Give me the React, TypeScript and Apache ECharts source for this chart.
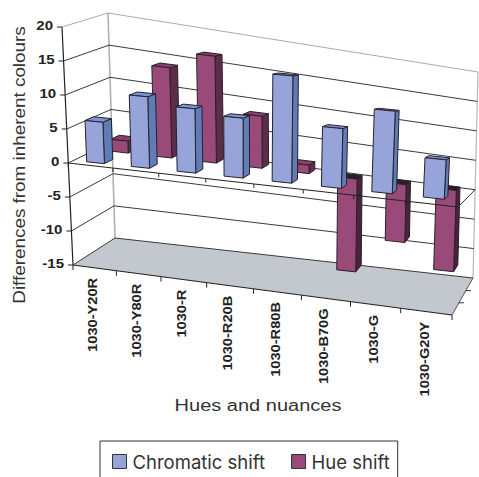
import React, { useEffect, useRef } from "react";
import * as echarts from "echarts";

const categories = ["1030-Y20R", "1030-Y80R", "1030-R", "1030-R20B", "1030-R80B", "1030-B70G", "1030-G", "1030-G20Y"];
const chromaticShift = [6.1, 10.5, 9.4, 8.7, 15.5, 8.6, 11.8, 5.6];
const hueShift = [1.8, 13.8, 16.4, 8, 1.3, -14.4, -9, -12.7];
const yTicks = [20, 15, 10, 5, 0, -5, -10, -15];
const W = 479;
const H = 477;
const FONT = "Liberation Sans";

type Pt = [number, number];
const FL0: Pt = [73, 265], FL1: Pt = [62, 27], FR0: Pt = [452, 315], FR1: Pt = [466, 63];
const BL0: Pt = [115, 238], BL1: Pt = [108, 13], BR0: Pt = [473, 278], BR1: Pt = [478, 72];
const mix = (a: Pt, b: Pt, t: number): Pt => [a[0] + (b[0] - a[0]) * t, a[1] + (b[1] - a[1]) * t];
const warp = (u: number) => 0.905 * u + 0.095 * u * u;
// u, v in 0..1 of the plot box from the cartesian scales, d = depth 0..1
function project(u: number, v: number, d: number): Pt {
  const w = warp(u);
  const front = mix(mix(FL0, FR0, w), mix(FL1, FR1, w), v);
  const back = mix(mix(BL0, BR0, w), mix(BL1, BR1, w), v);
  return mix(front, back, d);
}
function measure(s: string, font: string): number {
  const ctx = document.createElement("canvas").getContext("2d")!;
  ctx.font = font;
  return ctx.measureText(s).width;
}

function App() {
  const ref = useRef<HTMLDivElement>(null);
  useEffect(() => {
    document.body.style.margin = "0";
    const chart = echarts.init(ref.current!, null, { renderer: "svg" });
    // category position plus a fraction of the band -> normalised plot coordinates
    const norm = (api: any, i: number, frac: number, y: number): [number, number] => {
      const p = api.coord([i, y]);
      const band = api.size([1, 0])[0];
      return [(p[0] + frac * band) / W, (H - p[1]) / H];
    };
    const line = (a: Pt, b: Pt, stroke: string, lineWidth = 1) => ({
      type: "line",
      shape: { x1: a[0], y1: a[1], x2: b[0], y2: b[1] },
      style: { stroke, lineWidth },
      silent: true,
    });
    const text = (s: string, x: number, y: number, o: any = {}) => ({
      type: "text",
      x,
      y,
      rotation: o.rotation || 0,
      scaleX: o.scaleX || 1,
      silent: true,
      style: {
        text: s,
        x: 0,
        y: 0,
        align: o.align || "center",
        verticalAlign: "middle",
        fontFamily: FONT,
        fontSize: o.size || 12,
        fontWeight: o.weight || "normal",
        fill: o.fill || "#222",
      },
    });

    const renderBox = (palette: any, d0: number, d1: number, dx: number) => (_: any, api: any) => {
      const i = api.value(0);
      const val = api.value(1);
      const half = 0.2;
      const [uL, vTop] = norm(api, i, -half, val);
      const [uR, vBase] = norm(api, i, half, 0);
      const hi = Math.max(vTop, vBase);
      const lo = Math.min(vTop, vBase);
      const neg = val < 0;
      const q = (u: number, v: number, d: number): Pt => {
        const p = project(u, v, d);
        return [p[0] + dx, p[1] - 4 * u];
      };
      const poly = (points: Pt[], fill: string) => ({
        type: "polygon",
        shape: { points },
        style: { fill, stroke: "#26222c", lineWidth: 1, lineJoin: "round" },
        silent: true,
      });
      return {
        type: "group",
        children: [
          poly([q(uR, lo, d0), q(uR, hi, d0), q(uR, hi, d1), q(uR, lo, d1)], neg ? palette.sideNeg : palette.side),
          poly([q(uL, hi, d0), q(uR, hi, d0), q(uR, hi, d1), q(uL, hi, d1)], neg ? palette.topNeg : palette.top),
          poly([q(uL, lo, d0), q(uR, lo, d0), q(uR, hi, d0), q(uL, hi, d0)], palette.front),
        ],
      };
    };

    const blue = { front: "#96a4da", side: "#5f7cb6", top: "#7c93da", sideNeg: "#5f7cb6", topNeg: "#333" };
    const plum = { front: "#994a78", side: "#5f2b4a", top: "#8a3e69", sideNeg: "#4c2238", topNeg: "#2c1c26" };
    const catFont = "bold 12px " + FONT;

    chart.setOption({
      animation: false,
      grid: { left: 0, right: 0, top: 0, bottom: 0, containLabel: false },
      xAxis: { type: "category", data: categories, show: false, boundaryGap: true },
      yAxis: { type: "value", min: -15, max: 20, interval: 5, show: false },
      legend: {
        show: true,
        left: 100,
        top: 441,
        orient: "horizontal",
        data: ["Chromatic shift", "Hue shift"],
        icon: "rect",
        itemWidth: 14,
        itemHeight: 14,
        itemGap: 26,
        padding: [11, 8, 11, 12],
        borderColor: "#333",
        borderWidth: 1,
        backgroundColor: "#fff",
        selectedMode: false,
        itemStyle: { borderColor: "#333", borderWidth: 1 },
        textStyle: { fontFamily: "Inter", fontSize: 18.5, color: "#333", padding: [0, 0, 0, 1] },
      },
      series: [
        {
          name: "walls",
          type: "custom",
          coordinateSystem: "cartesian2d",
          z: 1,
          silent: true,
          clip: false,
          data: [[0, -15]],
          renderItem: (_: any, api: any) => {
            const v = norm(api, 0, 0, -15)[1];
            return {
              type: "group",
              children: [
                { type: "polygon", shape: { points: [project(0, v, 0), project(0, v, 1), project(1, v, 1), project(1, v, 0)] }, style: { fill: "#c2c8cd" }, silent: true },
                line(project(0, v, 0), project(1, v, 0), "#222", 1.2),
                line(project(1, v, 0), project(1, v, 1), "#555", 1),
                line(project(0, v, 0), project(0, 1, 0), "#222", 1.2),
                line(project(0, v, 1), project(0, 1, 1), "#aeb2b2", 1.6),
                line(project(1, v, 1), project(1, 1, 1), "#b5b8b8", 1.2),
              ],
            };
          },
        },
        {
          name: "value scale",
          type: "custom",
          coordinateSystem: "cartesian2d",
          z: 2,
          silent: true,
          clip: false,
          data: yTicks.map((t) => [0, t]),
          renderItem: (_: any, api: any) => {
            const t = api.value(1);
            const v = norm(api, 0, 0, t)[1];
            const f = project(0, v, 0);
            const b = project(0, v, 1);
            const r = project(1, v, 1);
            const colour = t === 20 ? "#a8acac" : "#3a3a3a";
            return {
              type: "group",
              children: [
                line(f, b, colour, 1),
                line(b, r, colour, 1),
                line(f, [f[0] - 5, f[1]], "#222", 1),
                text(String(t), f[0] - 9, f[1] - 1, { align: "right", weight: "bold", size: 12, scaleX: 1.25 }),
              ],
            };
          },
        },
        {
          name: "Hue shift",
          type: "custom",
          coordinateSystem: "cartesian2d",
          z: 3,
          clip: false,
          itemStyle: { color: plum.front },
          data: hueShift.map((y, i) => [i, y]),
          renderItem: renderBox(plum, 0.62, 0.82, 3),
        },
        {
          name: "category scale",
          type: "custom",
          coordinateSystem: "cartesian2d",
          z: 4,
          silent: true,
          clip: false,
          data: categories.map((_, i) => [i, 0]),
          renderItem: (_: any, api: any) => {
            const i = api.value(0);
            const [uL, v0] = norm(api, i, -0.5, 0);
            const [uR] = norm(api, i, 0.5, 0);
            const [uC, vF] = norm(api, i, 0, -15);
            const a = project(uL, v0, 0);
            const b = project(uR, v0, 0);
            const fa = project(uL, vF, 0);
            const fb = project(uR, vF, 0);
            const c = project(uC, vF, 0);
            const scale = 1.22;
            const len = measure(categories[i], catFont) * scale;
            const kids: any[] = [
              line(a, b, "#222", 1),
              line(a, [a[0], a[1] + 4], "#222", 1),
              line(fa, [fa[0], fa[1] + 5], "#222", 1),
              text(categories[i], c[0] - 1.5, c[1] + 10 + len / 2, { rotation: Math.PI / 2, weight: "bold", size: 12, scaleX: scale }),
            ];
            if (i === categories.length - 1) {
              const back = project(1, vF, 1);
              const m1 = mix(fb, back, 0.33);
              const m2 = mix(fb, back, 0.66);
              kids.push(line(fb, [fb[0], fb[1] + 5], "#222", 1));
              kids.push(line(b, project(1, v0, 1), "#333", 1));
              kids.push(line(m1, [m1[0] + 5, m1[1]], "#333", 1));
              kids.push(line(m2, [m2[0] + 5, m2[1]], "#333", 1));
            }
            return { type: "group", children: kids };
          },
        },
        {
          name: "Chromatic shift",
          type: "custom",
          coordinateSystem: "cartesian2d",
          z: 5,
          clip: false,
          itemStyle: { color: blue.front },
          data: chromaticShift.map((y, i) => [i, y]),
          renderItem: renderBox(blue, 0.12, 0.32, 0),
        },
      ],
      graphic: [
        {
          type: "text",
          x: 20,
          y: 165,
          rotation: Math.PI / 2,
          scaleX: 1.18,
          silent: true,
          style: { text: "Differences from inherent colours", x: 0, y: 0, align: "center", verticalAlign: "middle", fontFamily: FONT, fontSize: 16, fill: "#333" },
        },
        {
          type: "text",
          x: 258,
          y: 406,
          scaleX: 1.25,
          silent: true,
          style: { text: "Hues and nuances", x: 0, y: 0, align: "center", verticalAlign: "middle", fontFamily: FONT, fontSize: 16, fill: "#333" },
        },
      ],
    });
    return () => chart.dispose();
  }, []);
  return <div ref={ref} style={{ width: W, height: H, position: "absolute", left: 0, top: 0 }} />;
}

export default App;
